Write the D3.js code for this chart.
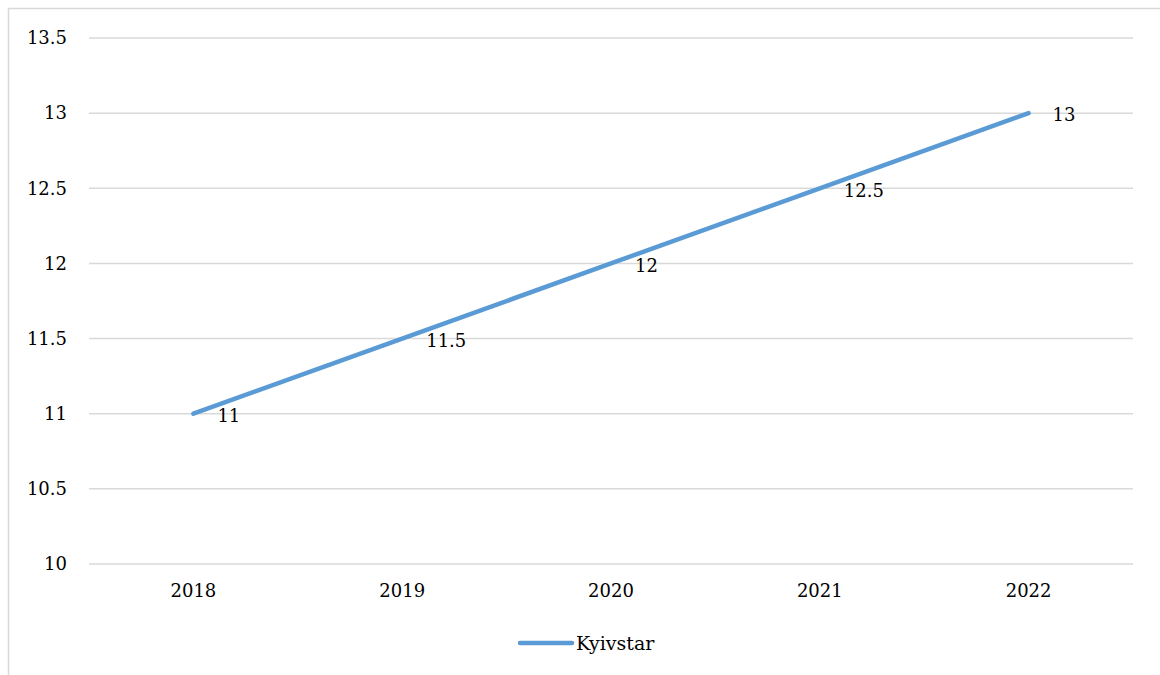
<!DOCTYPE html>
<html>
<head>
<meta charset="utf-8">
<script src="https://cdn.jsdelivr.net/npm/d3@7"></script>
<style>
  html, body { margin: 0; padding: 0; background: #fff; }
  svg { display: block; }
  text { font-family: 'DejaVu Serif', serif; fill: #000; }
</style>
</head>
<body>
<script>
// Annual values for the single series
const years = ["2018", "2019", "2020", "2021", "2022"];
const kyivstar = [11, 11.5, 12, 12.5, 13];
const yTicks = [10, 10.5, 11, 11.5, 12, 12.5, 13, 13.5];
const seriesName = "Kyivstar";

const W = 1160, H = 675;
const margin = { left: 89, right: 27, top: 38, bottom: 111 };
const numSize = 18, legendSize = 19;

const svg = d3.select("body").append("svg")
  .attr("width", W).attr("height", H);

// Outer chart frame (left and top edges)
svg.append("path")
  .attr("d", `M8.5,${H} L8.5,8.5 L${W},8.5`)
  .attr("fill", "none")
  .attr("stroke", "#d9d9d9")
  .attr("stroke-width", 1.5);

const x = d3.scaleBand().domain(years).range([margin.left, W - margin.right]);
const y = d3.scaleLinear().domain([10, 13.5]).range([H - margin.bottom, margin.top]);

// Horizontal gridlines
svg.append("g").selectAll("line").data(yTicks).join("line")
  .attr("x1", margin.left).attr("x2", W - margin.right)
  .attr("y1", d => y(d)).attr("y2", d => y(d))
  .attr("stroke", "#d9d9d9").attr("stroke-width", 1.5);

// Value axis labels
svg.append("g")
  .attr("transform", `translate(${margin.left},0)`)
  .call(d3.axisLeft(y).tickValues(yTicks).tickSize(0).tickPadding(22).tickFormat(d => String(d)))
  .attr("font-family", null).attr("font-size", numSize)
  .call(g => g.select(".domain").remove())
  .selectAll("text").attr("fill", "#000");

// Category axis labels
svg.append("g")
  .attr("transform", `translate(0,${H - margin.bottom})`)
  .call(d3.axisBottom(x).tickSize(0).tickPadding(20))
  .attr("font-family", null).attr("font-size", numSize)
  .call(g => g.select(".domain").remove())
  .selectAll("text").attr("fill", "#000");

const cx = d => x(d) + x.bandwidth() / 2;
const points = years.map((yr, i) => ({ yr, v: kyivstar[i] }));

// Series line
svg.append("path").datum(points)
  .attr("fill", "none").attr("stroke", "#5b9bd5")
  .attr("stroke-width", 4.5).attr("stroke-linecap", "round")
  .attr("d", d3.line().x(d => cx(d.yr)).y(d => y(d.v)));

// Data labels to the right of each point
svg.append("g").selectAll("text").data(points).join("text")
  .attr("x", d => cx(d.yr) + 24).attr("y", d => y(d.v) + 2)
  .attr("dy", "0.35em").attr("font-size", numSize)
  .text(d => String(d.v));

// Legend
const lg = svg.append("g");
lg.append("line").attr("x1", 520).attr("x2", 572).attr("y1", 643).attr("y2", 643)
  .attr("stroke", "#5b9bd5").attr("stroke-width", 4.5).attr("stroke-linecap", "round");
lg.append("text").attr("x", 576).attr("y", 643).attr("dy", "0.35em")
  .attr("font-size", legendSize).text(seriesName);
</script>
</body>
</html>
